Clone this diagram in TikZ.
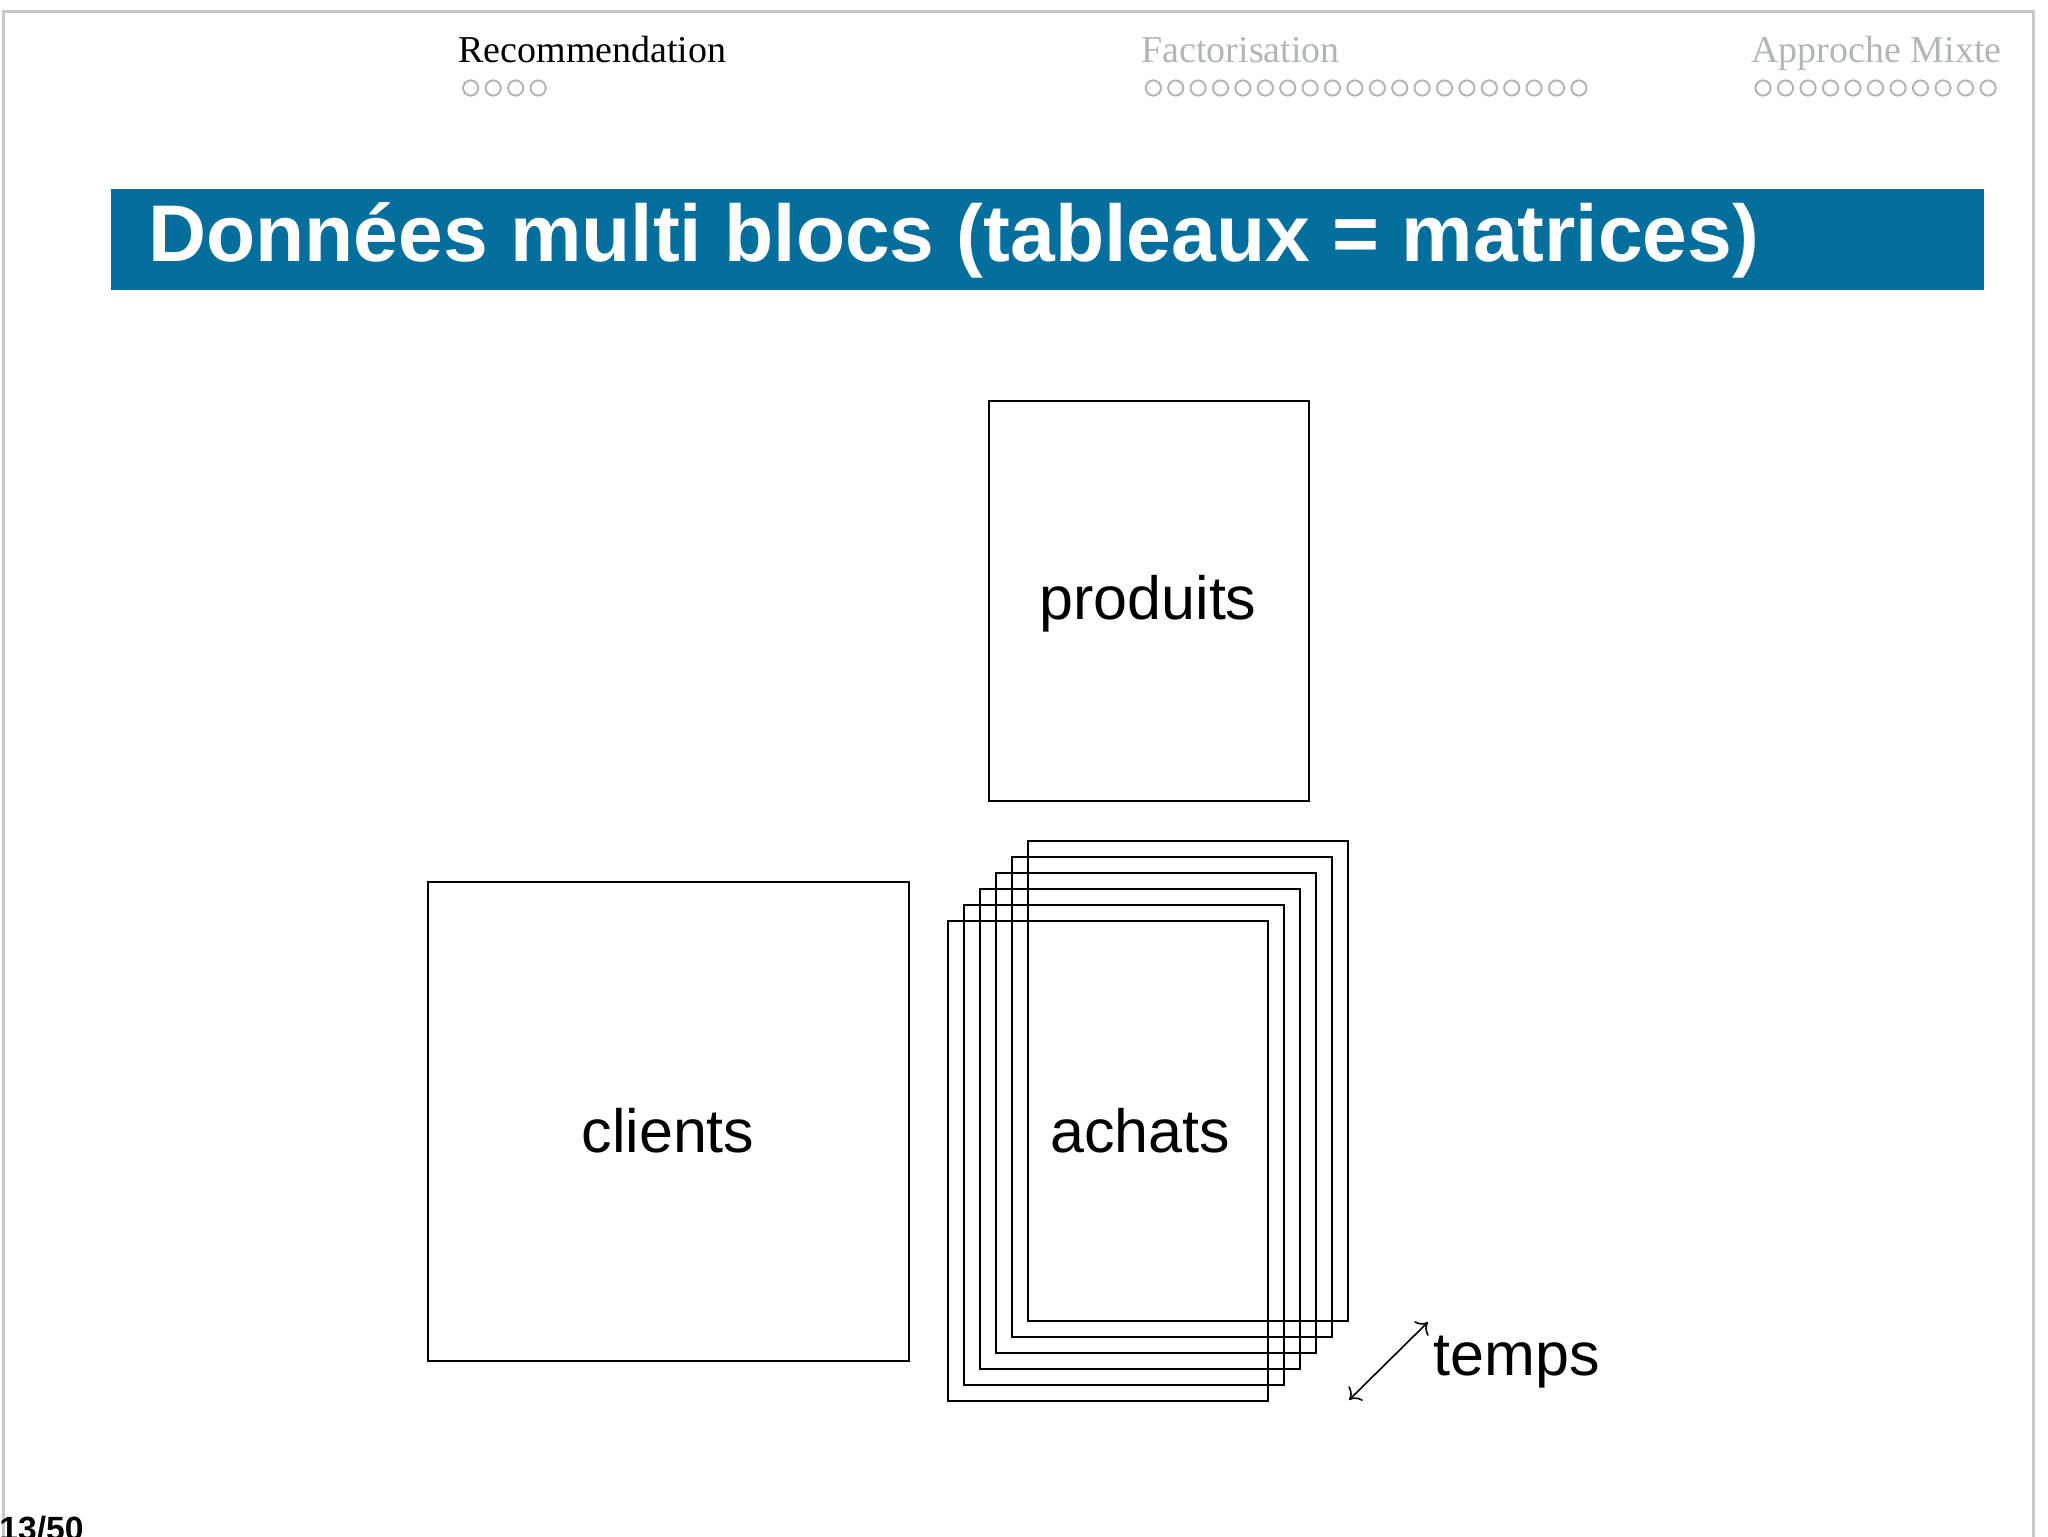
\documentclass[tikz,border=0pt]{standalone}
\usepackage{fontspec}
\setmainfont{Liberation Serif}
\setsansfont{Liberation Sans}
\usetikzlibrary{arrows.meta}
\definecolor{titleblue}{RGB}{4,110,157}
\definecolor{navgray}{RGB}{178,182,186}
\definecolor{framegray}{RGB}{200,200,200}
\tikzset{tmark/.tip={Computer Modern Rightarrow[length=5pt,width=10pt]}}
\begin{document}
\begin{tikzpicture}[x=0.5pt,y=-0.5pt,
  blk/.style={draw=black,line width=1pt,inner sep=0pt},
  lbl/.style={font=\sffamily\fontsize{30.5pt}{30.5pt}\selectfont,inner sep=0pt,anchor=base},
  navtext/.style={font=\rmfamily\fontsize{19pt}{19pt}\selectfont,inner sep=0pt,anchor=base west},
  navdot/.style={draw=navgray,line width=1pt,circle,minimum size=7.6pt,inner sep=0pt}
]
\useasboundingbox (0,0) rectangle (2048,1536);
\fill[white] (0,0) rectangle (2048,1536);
\draw[framegray,line width=1.5pt] (3,1540) -- (3,12) -- (2033,12) -- (2033,1540);

% navigation
\node[navtext,text=black] (nav1) at (458,63) {Recommendation};
\foreach \i in {0,...,3} \node[navdot] (da\i) at (470.7+22.5*\i,88) {};
\node[navtext,text=navgray] (nav2) at (1141,63) {Factorisation};
\foreach \i in {0,...,19} \node[navdot] (db\i) at (1153.3+22.4*\i,88) {};
\node[navtext,text=navgray] (nav3) at (1751,63) {Approche Mixte};
\foreach \i in {0,...,10} \node[navdot] (dc\i) at (1763+22.5*\i,88) {};

% title
\node[fill=titleblue,inner sep=0pt,minimum width=936.5pt,minimum height=50.5pt,anchor=north west] (titlebar) at (111,189) {};
\node[anchor=base west,text=white,font=\sffamily\bfseries\fontsize{40.2pt}{40.2pt}\selectfont,inner sep=0pt] (title) at (148,261) {Données multi blocs (tableaux = matrices)};

% blocks
\node[blk,minimum width=160pt,minimum height=200pt] (produits) at (1149,601) {};
\node[lbl] (produitslbl) at (1148,619) {produits};
\node[blk,minimum width=240.5pt,minimum height=239.5pt] (clients) at (668.5,1121.5) {};
\node[lbl] (clientslbl) at (668,1152) {clients};
\foreach \k in {5,...,0} \node[blk,minimum width=160pt,minimum height=240pt] (achats\k) at (1108+16*\k,1161-16*\k) {};
\node[lbl] (achatslbl) at (1140,1152) {achats};

% time arrow
\coordinate (tA) at (1349,1400);
\coordinate (tB) at (1428,1322);
\draw[line width=0.8pt,tmark-tmark] (tA) -- (tB);
\node[lbl,anchor=base west] (temps) at (1433,1375) {temps};

% page number
\node[anchor=base west,font=\sffamily\bfseries\fontsize{16.8pt}{16.8pt}\selectfont,inner sep=0pt] (pagenum) at (-1,1540) {13/50};
\end{tikzpicture}
\end{document}
